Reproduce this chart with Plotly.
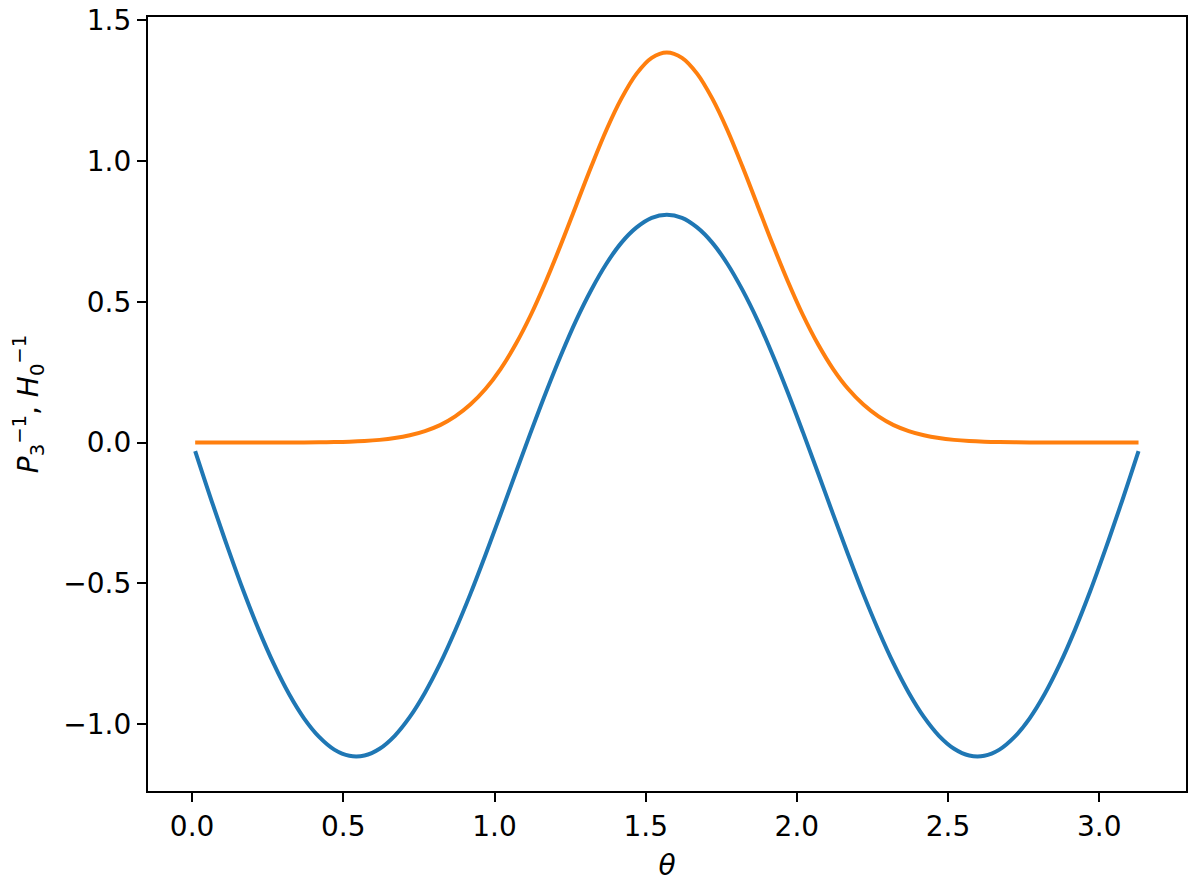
import plotly.graph_objects as go

# values
theta = [0.01, 0.07, 0.12, 0.17, 0.22, 0.27, 0.32, 0.37, 0.42, 0.47, 0.52,
         0.57, 0.62, 0.67, 0.72, 0.77, 0.82, 0.87, 0.92, 0.97, 1.02, 1.07,
         1.12, 1.17, 1.22, 1.27, 1.32, 1.37, 1.42, 1.47, 1.52, 1.57, 1.62,
         1.67, 1.72, 1.77, 1.82, 1.87, 1.92, 1.97, 2.02, 2.07, 2.12, 2.17,
         2.22, 2.27, 2.32, 2.37, 2.42, 2.47, 2.52, 2.57, 2.62, 2.67, 2.72,
         2.77, 2.82, 2.87, 2.92, 2.97, 3.02, 3.07, 3.13]

p3 = [-0.03, -0.225, -0.380, -0.528, -0.664, -0.786, -0.892, -0.979, -1.045,
      -1.090, -1.112, -1.111, -1.087, -1.041, -0.974, -0.888, -0.785, -0.667,
      -0.538, -0.399, -0.255, -0.108, 0.037, 0.178, 0.311, 0.434, 0.542,
      0.635, 0.710, 0.764, 0.798, 0.809, 0.798, 0.764, 0.710, 0.635, 0.542,
      0.434, 0.311, 0.178, 0.037, -0.108, -0.255, -0.399, -0.538, -0.667,
      -0.785, -0.888, -0.974, -1.041, -1.087, -1.111, -1.112, -1.090, -1.045,
      -0.979, -0.892, -0.786, -0.664, -0.528, -0.380, -0.225, -0.03]

h0 = [0.0, 0.0, 0.0, 0.0, 0.0001, 0.0001, 0.0003, 0.0005, 0.0010, 0.0018,
      0.0032, 0.0056, 0.0096, 0.016, 0.026, 0.041, 0.062, 0.093, 0.135, 0.190,
      0.261, 0.349, 0.453, 0.573, 0.704, 0.842, 0.980, 1.110, 1.222, 1.310,
      1.366, 1.385, 1.366, 1.310, 1.222, 1.110, 0.980, 0.842, 0.704, 0.573,
      0.453, 0.349, 0.261, 0.190, 0.135, 0.093, 0.062, 0.041, 0.026, 0.016,
      0.0096, 0.0056, 0.0032, 0.0018, 0.0010, 0.0005, 0.0003, 0.0001, 0.0001,
      0.0, 0.0, 0.0, 0.0]

xticks = [0.0, 0.5, 1.0, 1.5, 2.0, 2.5, 3.0]
yticks = [-1.0, -0.5, 0.0, 0.5, 1.0, 1.5]

fig = go.Figure()
fig.add_trace(go.Scatter(x=theta, y=p3, mode="lines", line_shape="spline",
                         line=dict(color="#1f77b4", width=4)))
fig.add_trace(go.Scatter(x=theta, y=h0, mode="lines", line_shape="spline",
                         line=dict(color="#ff7f0e", width=4)))

axis = dict(showgrid=False, zeroline=False, showline=True, mirror=True,
            linecolor="black", linewidth=2.2, ticks="outside", ticklen=9,
            tickwidth=2.2, tickcolor="black", tickformat=".1f",
            automargin=False, ticklabeloverflow="allow",
            tickfont=dict(size=28, color="black"))

fig.update_xaxes(axis, range=[-0.146, 3.287], tickvals=xticks,
                 title=dict(text="<i>θ</i>", standoff=20,
                            font=dict(size=28, color="black")))
fig.update_yaxes(axis, range=[-1.237, 1.511], tickvals=yticks,
                 title=dict(text="<i>P</i><sub>3</sub><sup>−1</sup>, <i>H</i><sub>0</sub><sup>−1</sup>",
                            standoff=22, font=dict(size=28, color="black")))

# the page body adds an 8px offset, so the figure is drawn 8px smaller
fig.update_layout(width=1192, height=874, showlegend=False,
                  margin=dict(l=140, r=14, t=9, b=91),
                  paper_bgcolor="white", plot_bgcolor="white",
                  font=dict(family="DejaVu Sans", size=28, color="black"))

fig.write_html("out.html")
